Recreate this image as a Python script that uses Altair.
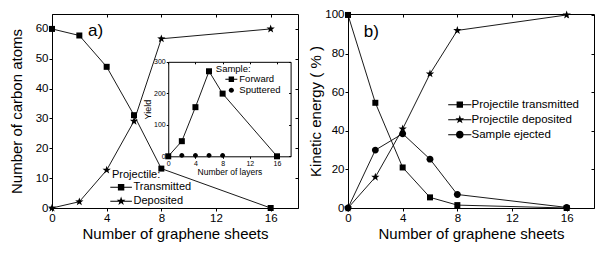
import math
import altair as alt
import pandas as pd

# ---------------- data ----------------
sheets = [0, 2, 4, 6, 8, 16]
atoms_transmitted = [60, 57.8, 47.3, 31.1, 13.2, 0]
atoms_deposited = [0, 2.1, 12.7, 29.1, 56.7, 60]

layers = [0, 2, 4, 6, 8, 16]
yield_forward = [0, 48, 156, 270, 199, 0]
layers_sputtered = [2, 4, 6, 8]
yield_sputtered = [3, 3, 3, 3]

ke_transmitted = [100, 54.5, 21, 5.5, 1.5, 0]
ke_deposited = [0, 16, 41, 69.5, 92, 100]
ke_ejected = [0, 30, 38.5, 25.3, 7, 0.3]

a_series = ["Transmitted", "Deposited"]
inset_series = ["Forward", "Sputtered"]
b_series = ["Projectile transmitted", "Projectile deposited", "Sample ejected"]

x_ticks = [0, 4, 8, 12, 16]
a_y_ticks = [0, 10, 20, 30, 40, 50, 60]
b_y_ticks = [0, 20, 40, 60, 80, 100]
inset_x_ticks = [0, 4, 8, 12, 16]
inset_y_ticks = [0, 100, 200, 300]

# ---------------- layout helpers ----------------
FONT = "Liberation Sans"
W, H = 246, 194
REF_W, REF_H = 249.3, 200.0


def sx(v):
    return v / REF_W * W


def sy(v):
    return v / REF_H * H


def star_path(r_out, cx=0.0, ratio=0.40):
    pts = []
    for k in range(10):
        ang = math.radians(-90 + 36 * k)
        r = r_out if k % 2 == 0 else r_out * ratio
        pts.append((cx + r * math.cos(ang), r * math.sin(ang)))
    return "M" + "L".join(f"{x:.3f},{y:.3f}" for x, y in pts) + "Z"


def square_path(a, cx=0.0):
    return f"M{cx - a:.3f},{-a:.3f}H{cx + a:.3f}V{a:.3f}H{cx - a:.3f}Z"


def circle_path(r, cx=0.0):
    return (f"M{cx + r:.3f},0A{r:.3f},{r:.3f} 0 1,1 {cx - r:.3f},0"
            f"A{r:.3f},{r:.3f} 0 1,1 {cx + r:.3f},0Z")


def bar(x0, x1, hw):
    return f"M{x0:.3f},{-hw:.3f}H{x1:.3f}V{hw:.3f}H{x0:.3f}Z"


def lines_path(inner, outer, unit, cx=0.0):
    hw = 0.5 / unit  # 1 px thick filled segments
    return bar(cx - outer, cx - inner, hw) + bar(cx + inner, cx + outer, hw)


PT_SIZE = 36            # unit = 3 px
STAR = star_path(1.45)
CIRC_B = circle_path(1.15)
CIRC_I = circle_path(0.8)

LEG_SIZE = 64           # unit = 4 px
a_leg_dx = 0.9
LEG_A_SQ = lines_path(0.8, 2.7, 4, a_leg_dx) + square_path(0.8, a_leg_dx)
LEG_A_STAR = lines_path(0.4, 2.7, 4, a_leg_dx) + star_path(1.15, a_leg_dx)
LEG_B_SQ = lines_path(0.8, 2.9, 4) + square_path(0.8)
LEG_B_STAR = lines_path(0.4, 2.9, 4) + star_path(1.15)
LEG_B_CIRC = lines_path(0.8, 2.9, 4) + circle_path(0.95)

INS_LEG_SIZE = 36       # unit = 3 px
i_leg_dx = 3.6
INS_LEG_SQ = lines_path(0.9, 2.0, 3, i_leg_dx) + square_path(0.9, i_leg_dx)
INS_LEG_CIRC = circle_path(0.85, i_leg_dx)


def mirror_x(vals, offset, size=3, domain=False):
    return alt.Axis(orient="bottom", offset=offset, values=vals, labels=False,
                    title=None, tickSize=size, domain=domain, grid=False)


def mirror_y(vals, offset, size=3, domain=False):
    return alt.Axis(orient="left", offset=offset, values=vals, labels=False,
                    title=None, tickSize=size, domain=domain, grid=False)


def legend(x, y, title_pad=2, row_pad=2, size=LEG_SIZE, font_size=11, label_offset=6):
    return alt.Legend(orient="none", legendX=x, legendY=y, padding=0,
                      symbolSize=size, symbolStrokeWidth=0,
                      symbolFillColor="black", symbolStrokeColor="black",
                      symbolOpacity=1, labelFont=FONT, labelFontSize=font_size,
                      labelColor="black", titleFont=FONT, titleFontSize=font_size,
                      titleFontWeight="normal", titleColor="black", titleAnchor="start",
                      titlePadding=title_pad, rowPadding=row_pad,
                      labelOffset=label_offset)


# ---------------- panel a ----------------
df_a = pd.DataFrame({
    "n": sheets + sheets,
    "v": atoms_transmitted + atoms_deposited,
    "s": [a_series[0]] * len(sheets) + [a_series[1]] * len(sheets),
})
xs_a = alt.Scale(domain=[0, 18], nice=False, zero=False)
ys_a = alt.Scale(domain=[0, 65], nice=False, zero=False)

a_lines = alt.Chart(df_a).mark_line(color="black", strokeWidth=0.9).encode(
    x=alt.X("n:Q", scale=xs_a, axis=alt.Axis(
        orient="bottom", values=x_ticks, title="Number of graphene sheets",
        tickSize=3, labelPadding=1, titlePadding=3, domain=False, grid=False)),
    y=alt.Y("v:Q", scale=ys_a, axis=alt.Axis(
        orient="left", values=a_y_ticks, title="Number of carbon atoms",
        tickSize=3, labelPadding=1, titlePadding=11, domain=False, grid=False)),
    detail="s:N",
)
a_points = alt.Chart(df_a).mark_point(filled=True, color="black", opacity=1, size=PT_SIZE).encode(
    x=alt.X("n:Q", scale=xs_a, axis=mirror_x(x_ticks, -H)),
    y=alt.Y("v:Q", scale=ys_a, axis=mirror_y(a_y_ticks, -W)),
    shape=alt.Shape("s:N", scale=alt.Scale(domain=a_series, range=["square", STAR]), legend=None),
)
a_leg = alt.Chart(df_a).transform_filter("false").mark_point(
    filled=True, color="black").encode(
    shape=alt.Shape("s:N", title="Projectile:",
                    scale=alt.Scale(domain=a_series, range=[LEG_A_SQ, LEG_A_STAR]),
                    legend=legend(60.0, sy(160.0), title_pad=1.5, row_pad=2,
                                  label_offset=10.5)),
)
a_label = alt.Chart(pd.DataFrame({"t": ["a)"]})).mark_text(
    font=FONT, fontSize=17, align="left", baseline="middle", color="black").encode(
    text="t:N", x=alt.value(sx(36.6)), y=alt.value(sy(17.5)))

# inset
ix0, ix1 = sx(117.8), sx(241.8)
iy_top, iy_bot = sy(49.3), sy(146.7)
df_f = pd.DataFrame({"l": layers, "y": yield_forward, "s": inset_series[0]})
df_sp = pd.DataFrame({"l": layers_sputtered, "y": yield_sputtered, "s": inset_series[1]})
df_ins = pd.concat([df_f, df_sp], ignore_index=True)
xs_i = alt.Scale(domain=[0, 18], range=[ix0, ix1], nice=False, zero=False)
ys_i = alt.Scale(domain=[0, 300], range=[iy_bot, iy_top], nice=False, zero=False)

i_lines = alt.Chart(df_f).mark_line(color="black", strokeWidth=0.9).encode(
    x=alt.X("l:Q", scale=xs_i, axis=alt.Axis(
        orient="bottom", offset=iy_bot - H, values=inset_x_ticks, title="Number of layers",
        labelFontSize=7, titleFontSize=8.5, tickSize=2, labelPadding=1, titlePadding=1,
        domain=True, grid=False)),
    y=alt.Y("y:Q", scale=ys_i, axis=alt.Axis(
        orient="left", offset=-ix0, values=inset_y_ticks, title="Yield",
        labelFontSize=7, titleFontSize=9, tickSize=2, labelPadding=1, titlePadding=1,
        domain=True, grid=False)),
)
i_points = alt.Chart(df_ins).mark_point(filled=True, color="black", opacity=1, size=PT_SIZE).encode(
    x=alt.X("l:Q", scale=xs_i, axis=mirror_x(inset_x_ticks, iy_top - H, size=2, domain=True)),
    y=alt.Y("y:Q", scale=ys_i, axis=mirror_y(inset_y_ticks, -ix1, size=2, domain=True)),
    shape=alt.Shape("s:N", scale=alt.Scale(domain=inset_series, range=["square", CIRC_I]), legend=None),
)
i_leg = alt.Chart(df_ins).transform_filter("false").mark_point(
    filled=True, color="black").encode(
    shape=alt.Shape("s:N", title="Sample:",
                    scale=alt.Scale(domain=inset_series, range=[INS_LEG_SQ, INS_LEG_CIRC]),
                    legend=legend(sx(166.0), sy(52.0), title_pad=0.5, row_pad=0,
                                  size=INS_LEG_SIZE, font_size=9.5,
                                  label_offset=14)),
)

panel_a = alt.layer(a_lines, a_points, a_leg, a_label, i_lines, i_points, i_leg).properties(
    width=W, height=H
).resolve_scale(x="independent", y="independent", shape="independent").resolve_axis(
    x="independent", y="independent").resolve_legend(shape="independent")

# ---------------- panel b ----------------
df_b = pd.DataFrame({
    "n": sheets * 3,
    "v": ke_transmitted + ke_deposited + ke_ejected,
    "s": [b_series[0]] * 6 + [b_series[1]] * 6 + [b_series[2]] * 6,
})
xs_b = alt.Scale(domain=[0, 18], nice=False, zero=False)
ys_b = alt.Scale(domain=[0, 100.5], nice=False, zero=False)

b_lines = alt.Chart(df_b).mark_line(color="black", strokeWidth=0.9).encode(
    x=alt.X("n:Q", scale=xs_b, axis=alt.Axis(
        orient="bottom", values=x_ticks, title="Number of graphene sheets",
        tickSize=3, labelPadding=1, titlePadding=3, domain=False, grid=False)),
    y=alt.Y("v:Q", scale=ys_b, axis=alt.Axis(
        orient="left", values=b_y_ticks, title="Kinetic energy ( % )",
        tickSize=3, labelPadding=1, titlePadding=1, domain=False, grid=False)),
    detail="s:N",
)
b_points = alt.Chart(df_b).mark_point(filled=True, color="black", opacity=1, size=PT_SIZE).encode(
    x=alt.X("n:Q", scale=xs_b, axis=mirror_x(x_ticks, -H)),
    y=alt.Y("v:Q", scale=ys_b, axis=mirror_y(b_y_ticks, -W)),
    shape=alt.Shape("s:N", scale=alt.Scale(domain=b_series, range=["square", STAR, CIRC_B]), legend=None),
)
b_leg = alt.Chart(df_b).transform_filter("false").mark_point(
    filled=True, color="black").encode(
    shape=alt.Shape("s:N", title=None,
                    scale=alt.Scale(domain=b_series, range=[LEG_B_SQ, LEG_B_STAR, LEG_B_CIRC]),
                    legend=legend(sx(110.0) - 2.5, sy(87.5), row_pad=2, font_size=11.5,
                                  label_offset=6)),
)
b_label = alt.Chart(pd.DataFrame({"t": ["b)"]})).mark_text(
    font=FONT, fontSize=17, align="left", baseline="middle", color="black").encode(
    text="t:N", x=alt.value(sx(16.0)), y=alt.value(sy(19.0)))

panel_b = alt.layer(b_lines, b_points, b_leg, b_label).properties(
    width=W, height=H
).resolve_scale(x="independent", y="independent", shape="independent").resolve_axis(
    x="independent", y="independent")

chart = alt.hconcat(panel_a, panel_b, spacing=50, bounds="flush", background="white",
                    padding={"left": 0, "top": 0, "right": 0, "bottom": 0}).configure_view(
    stroke="black", strokeWidth=1
).configure_axis(
    labelFont=FONT, titleFont=FONT, labelColor="black", titleColor="black",
    tickColor="black", domainColor="black", titleFontWeight="normal",
    labelFontSize=11.5, titleFontSize=15, tickWidth=1, domainWidth=1, labelFlush=False
)

chart.save("out.html", embed_options={"renderer": "svg", "actions": False})
